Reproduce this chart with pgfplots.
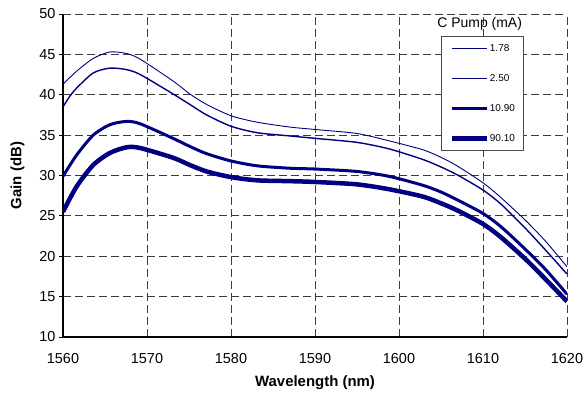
\documentclass[border=0pt]{standalone}
\usepackage{fontspec}
\setmainfont{Liberation Sans}
\usepackage{pgfplots}
\pgfplotsset{compat=1.18}
\definecolor{navy}{RGB}{0,0,128}
\definecolor{gridc}{RGB}{60,60,60}
\begin{document}
\begin{tikzpicture}
\begin{axis}[
  at={(63bp,60bp)}, anchor=south west,
  width=504bp, height=323bp, scale only axis,
  xmin=1560, xmax=1620, ymin=10, ymax=50,
  xtick={1560,1570,...,1620}, ytick={10,15,...,50},
  axis x line=bottom, axis y line=left,
  axis line style={-, black, line width=1.2bp},
  tick align=outside, major tick length=4bp,
  xtick style={draw=none}, ytick style={black, line width=1bp},
  grid=major,
  major grid style={gridc, line width=0.9bp, dash pattern=on 8bp off 4bp},
  /pgf/number format/assume math mode=true,
  /pgf/number format/1000 sep={},
  tick label style={font=\fontsize{14.5}{16}\selectfont},
  xticklabel style={yshift=-9bp},
  xlabel={Wavelength (nm)}, ylabel={Gain (dB)},
  label style={font=\fontsize{15}{17}\selectfont\bfseries},
  xlabel style={at={(axis description cs:0.5,-0.142)}, anchor=center},
  ylabel style={at={(axis description cs:-0.0903,0.5)}, anchor=center},
  legend style={at={(axis description cs:0.75,0.932)}, anchor=north west,
    draw=gray!60!black, line width=0.9bp, fill=white,
    font=\fontsize{10}{12}\selectfont,
    inner xsep=8bp, inner ysep=6bp, row sep=17.5bp,
    /tikz/every even column/.append style={column sep=0bp},
    nodes={inner xsep=1bp}},
  legend cell align=left,
  legend image code/.code={\draw[#1] (0bp,0bp) -- (35bp,0bp);},
  every axis plot/.append style={navy, smooth, tension=0.45},
]
\addplot[line width=0.9bp] coordinates {
(1560,41.3) (1561.6,42.9) (1563.6,44.5) (1565.6,45.3) (1567.6,45.1) (1569.2,44.4)
(1573.1,41.7) (1575.1,40.1) (1577.1,38.8) (1580,37.4) (1583.1,36.6) (1587,36.0)
(1590,35.7) (1595,35.2) (1598.8,34.3) (1602.8,33.2) (1604.9,32.3) (1606.9,31.2)
(1610,29.1) (1612.2,27.2) (1615.1,24.4) (1617.5,21.8) (1620,18.7)};
\addlegendentry{1.78}
\addplot[line width=1.4bp] coordinates {
(1560,38.5) (1560.8,39.8) (1561.6,40.8) (1563.6,42.7) (1565.6,43.3) (1567.6,43.1)
(1569.2,42.5) (1573.1,40.1) (1575.1,38.8) (1577.1,37.5) (1580,36.1) (1583.1,35.3)
(1587,34.9) (1590,34.6) (1595,34.1) (1598.8,33.3) (1602.8,32.0) (1604.9,31.1)
(1606.9,30.1) (1610,28.2) (1612.2,26.4) (1615.1,23.4) (1617.5,20.7) (1620,17.8)};
\addlegendentry{2.50}
\addplot[line width=3bp] coordinates {
(1560,29.9) (1561.6,32.5) (1563.6,35.0) (1565.6,36.3) (1567.6,36.7) (1569.2,36.4)
(1573.1,34.6) (1575.1,33.6) (1577.1,32.7) (1580,31.8) (1583.1,31.2) (1587,30.9)
(1590,30.8) (1595,30.5) (1598.8,29.9) (1602.8,28.8) (1604.9,28.0) (1606.9,27.0)
(1610,25.3) (1612.2,23.6) (1615.1,20.8) (1617.5,18.3) (1620,15.3)};
\addlegendentry{10.90}
\addplot[line width=4.5bp] coordinates {
(1560,25.5) (1561.6,28.6) (1563.6,31.3) (1565.6,32.8) (1567.6,33.5) (1569.2,33.4)
(1573.1,32.2) (1575.1,31.3) (1577.1,30.5) (1580,29.8) (1583.1,29.4) (1587,29.3)
(1590,29.2) (1595,28.9) (1598.8,28.3) (1602.8,27.4) (1604.9,26.6) (1606.9,25.7)
(1610,24.0) (1612.2,22.3) (1615.1,19.6) (1617.5,17.1) (1620,14.4)};
\addlegendentry{90.10}
\node[font=\fontsize{14}{16}\selectfont] at (axis description cs:0.8268,0.969) {C Pump (mA)};
\end{axis}
\pgfresetboundingbox
\useasboundingbox (0bp,0bp) rectangle (584bp,397bp);
\end{tikzpicture}
\end{document}
